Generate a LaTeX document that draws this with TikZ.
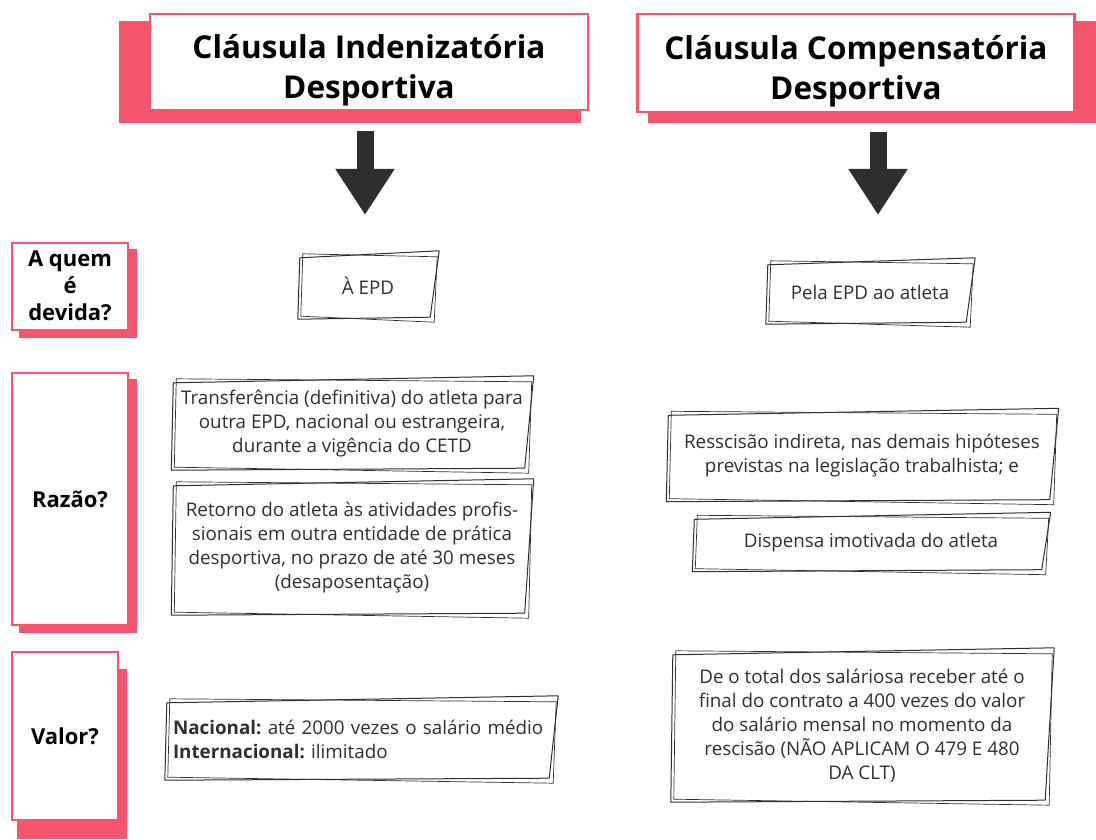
\documentclass[tikz,border=0pt]{standalone}
\usepackage{fontspec}
\setmainfont{Open Sans}
\usetikzlibrary{arrows.meta,positioning,backgrounds}
\definecolor{clausepink}{HTML}{F5566E}
\definecolor{sketchink}{HTML}{2E2E2E}

% hand-drawn outline round a named node
\newcommand\roughbox[1]{%
  \draw[sketchline] ([shift={(0,3)}]#1.north west) -- ([shift={(3,-4)}]#1.north east)
    -- ([shift={(-6,0)}]#1.south east) -- ([shift={(-2,2)}]#1.south west) -- cycle;
  \draw[sketchline,line width=.7pt] ([shift={(3,-1)}]#1.north west) -- ([shift={(1,2)}]#1.north east)
    -- ([shift={(-2,5)}]#1.south east) -- ([shift={(1,-1)}]#1.south west) -- cycle;
}
\newcommand\titlestrut{\rule{0pt}{40pt}}

\tikzset{
  titlebox/.style={draw=clausepink,line width=2.5pt,fill=white,align=center,
    font=\fontsize{31.5}{40}\selectfont\bfseries},
  askbox/.style={draw=clausepink,line width=2pt,fill=white,align=center,
    font=\fontsize{22}{27}\selectfont\bfseries},
  notebox/.style={align=center,text=sketchink,inner sep=0pt,
    font=\fontsize{18.8}{24}\selectfont\frenchspacing},
  sketchline/.style={draw=sketchink,line width=1pt,line join=round},
  downarrow/.style={-{Triangle[length=46pt,width=56pt]},line width=17pt,draw=sketchink},
}

\begin{document}
\begin{tikzpicture}[x=1pt,y=-1pt]
  \useasboundingbox (0,0) rectangle (1096,840);

  % column heads
  \node[titlebox,minimum width=438pt,minimum height=96pt] (indeniz) at (369,62)
    {\titlestrut Cláusula Indenizatória\\Desportiva};
  \node[titlebox,minimum width=437pt,minimum height=98pt] (compens) at (856,63)
    {\titlestrut Cláusula Compensatória\\Desportiva};

  % row questions
  \node[askbox,minimum width=116pt,minimum height=87pt] (quem) at (70,286)
    {A quem\\é\\devida?};
  \node[askbox,minimum width=116pt,minimum height=252pt] (razao) at (70,499) {Razão?};
  \node[askbox,minimum width=106pt,minimum height=168pt] (valor) at (65,736) {Valor?};

  \begin{pgfonlayer}{background}
    \fill[clausepink] ([shift={(-30,8)}]indeniz.north west) rectangle ([shift={(-8,12)}]indeniz.south east);
    \fill[clausepink] ([shift={(12,8)}]compens.north west) rectangle ([shift={(22,10)}]compens.south east);
    \fill[clausepink] ([shift={(8,7)}]quem.north west) rectangle ([shift={(8,7)}]quem.south east);
    \fill[clausepink] ([shift={(8,7)}]razao.north west) rectangle ([shift={(8,7)}]razao.south east);
    \fill[clausepink] ([shift={(6,18)}]valor.north west) rectangle ([shift={(8,18)}]valor.south east);
  \end{pgfonlayer}

  % arrows
  \coordinate (indenizTip) at (365,215);
  \coordinate (compensTip) at (878,215);
  \draw[downarrow] ([shift={(-4,20)}]indeniz.south) -- (indenizTip);
  \draw[downarrow] ([shift={(22,19)}]compens.south) -- (compensTip);

  % A quem e devida
  \node[notebox,minimum width=136pt,minimum height=62pt] (epd) at (368,286) {À EPD};
  \node[notebox,minimum width=204pt,minimum height=60pt] (atleta) at (870,292) {Pela EPD ao atleta};

  % Razao
  \node[notebox,minimum width=357pt,minimum height=88pt] (transf) at (352,424)
    {Transferência (definitiva) do atleta para\\outra EPD, nacional ou estrangeira,\\durante a vigência do CETD};
  \node[notebox,minimum width=357pt,minimum height=130pt] (retorno) at (352,548)
    {Retorno do atleta às atividades profis-\\sionais em outra entidade de prática\\desportiva, no prazo de até 30 meses\\(desaposentação)};
  \node[notebox,minimum width=387pt,minimum height=87pt] (rescisao) at (862,456)
    {Resscisão indireta, nas demais hipóteses\\previstas na legislação trabalhista; e};
  \node[notebox,minimum width=353pt,minimum height=53pt] (dispensa) at (871,543)
    {Dispensa imotivada do atleta};

  % Valor
  \node[notebox,minimum width=388pt,minimum height=78pt,align=left,text width=376pt] (nacional) at (361,739)
    {\textbf{Nacional:} até 2000 vezes o salário médio\\\textbf{Internacional:} ilimitado};
  \node[notebox,minimum width=378pt,minimum height=148pt] (total) at (862,726)
    {De o total dos saláriosa receber até o\\final do contrato a 400 vezes do valor\\do salário mensal no momento da\\rescisão (NÃO APLICAM O 479 E 480\\DA CLT)};

  \foreach \n in {epd,atleta,transf,retorno,rescisao,dispensa,nacional,total}
    {\roughbox{\n}}
\end{tikzpicture}
\end{document}
